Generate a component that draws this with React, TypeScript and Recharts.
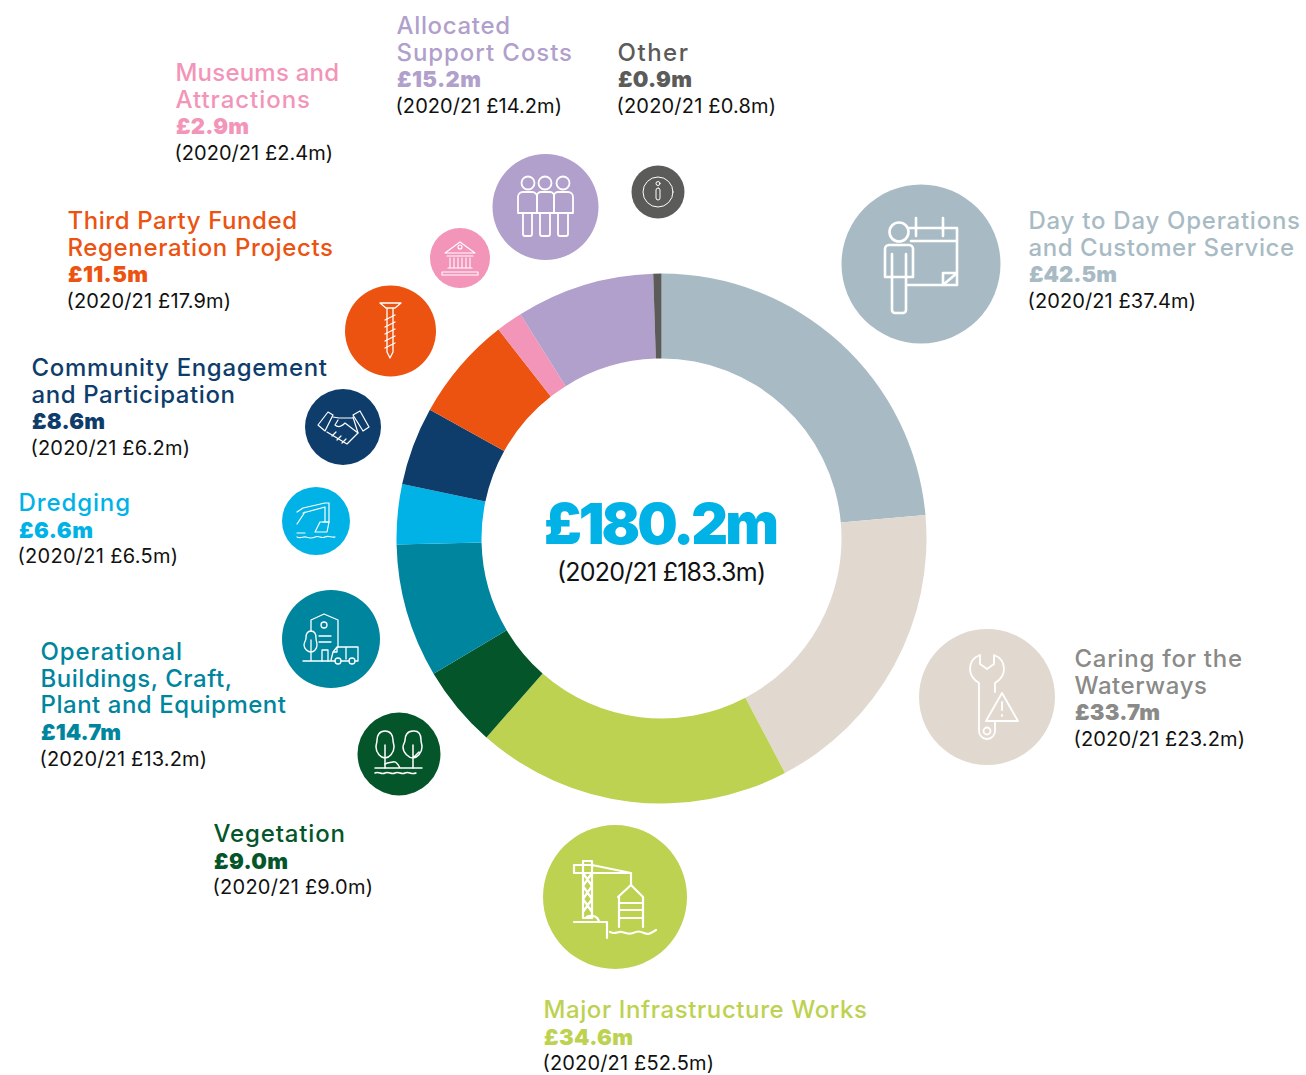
import React from 'react';
import { PieChart, Pie, Cell } from 'recharts';

const names = [
  'Day to Day Operations and Customer Service',
  'Caring for the Waterways',
  'Major Infrastructure Works',
  'Vegetation',
  'Operational Buildings, Craft, Plant and Equipment',
  'Dredging',
  'Community Engagement and Participation',
  'Third Party Funded Regeneration Projects',
  'Museums and Attractions',
  'Allocated Support Costs',
  'Other',
];
const values = [42.5, 33.7, 34.6, 9.0, 14.7, 6.6, 8.6, 11.5, 2.9, 15.2, 0.9];
const previous = [37.4, 23.2, 52.5, 9.0, 13.2, 6.5, 6.2, 17.9, 2.4, 14.2, 0.8];
const COLORS = ['#a8bbc4', '#e1d9cf', '#bcd250', '#04562a', '#00859e', '#00b2e6', '#0e3d6b', '#ec5210', '#f295b9', '#b19fcc', '#5b5b5a'];
const TEXT_COLORS = ['#a8bbc4', '#8a8a88', '#bcd250', '#04562a', '#00859e', '#00b2e6', '#0e3d6b', '#ec5210', '#f295b9', '#b19fcc', '#5b5b5a'];

const chartData = names.map((name, i) => ({ name, value: values[i] }));

// label layout: wrapped title lines with [text, width], then x, first baseline, amount and prior widths
const labels = [
  { x: 1029, y: 229, lines: [['Day to Day Operations', 271], ['and Customer Service', 265]], w: 88, pw: 167 },
  { x: 1075, y: 667, lines: [['Caring for the', 167], ['Waterways', 132]], w: 85, pw: 170 },
  { x: 544, y: 1018, lines: [['Major Infrastructure Works', 323]], w: 89, pw: 170 },
  { x: 214, y: 842, lines: [['Vegetation', 131]], w: 74, pw: 159 },
  { x: 41, y: 660, lines: [['Operational', 141], ['Buildings, Craft,', 191], ['Plant and Equipment', 245]], w: 80, pw: 166 },
  { x: 19, y: 511, lines: [['Dredging', 111]], w: 74, pw: 159 },
  { x: 32, y: 376, lines: [['Community Engagement', 295], ['and Participation', 203]], w: 73, pw: 158 },
  { x: 68, y: 229, lines: [['Third Party Funded', 229], ['Regeneration Projects', 265]], w: 80, pw: 163 },
  { x: 176, y: 81, lines: [['Museums and', 163], ['Attractions', 134]], w: 73, pw: 157 },
  { x: 397, y: 34, lines: [['Allocated', 113], ['Support Costs', 175]], w: 84, pw: 165 },
  { x: 618, y: 60.5, lines: [['Other', 70]], w: 74, pw: 158 },
];

const bubbles = [
  [921, 264, 79.5], [987, 697, 68], [615, 897, 72], [399, 754, 41.5], [331, 639, 49], [316, 521, 34],
  [343, 427, 38], [390.5, 331, 45.5], [460, 258, 30], [545.5, 207, 53], [658, 192, 26.5],
];

const FONT = 'Inter, "Noto Sans", sans-serif';
const LINE = 26.7;

const Icons = () => (
  <g fill="none" stroke="#fff" strokeLinejoin="round" strokeLinecap="round">
    {/* day to day */}
    <g strokeWidth={2.6}>
      <circle cx={899} cy={232} r={9.5} />
      <path d="M889 245h20a4 4 0 0 1 4 4v28h-28v-28a4 4 0 0 1 4-4zM892 277v33a3 3 0 0 0 3 3h8a3 3 0 0 0 3-3v-33M892 254v23M906 254v23" />
      <path d="M908 228h49v57h-50M911 241h46M916 218v18M943 218v18M943 285v-12h14M943 285l14-12" />
    </g>
    {/* caring */}
    <g strokeWidth={1.8}>
      <path d="M980 655C972 658 970 664 970 669C970 675 974 680 979 683V731a8 8 0 0 0 16 0V721M995 692V683C1000 680 1004 675 1004 669C1004 664 1002 658 994 655V664L987 669L980 664V655" />
      <circle cx={987} cy={731} r={3.5} />
      <path d="M1002 693l16 28h-32zM1002 702v8M1002 715v1" />
    </g>
    {/* major works */}
    <g strokeWidth={2.2}>
      <path d="M574 865h18M574 873h18M574 865v8M583 861h9v57h-9zM592 865l39 8v12M592 873h39M583 873l9 13-9 13 9 13M592 873l-9 13 9 13-9 13" />
      <path d="M618 897l13-12 12 12M619 897v30M643 897v30M619 903h24M619 910h24M619 918h24" />
      <path d="M574 922h33v16M586 918c0-3 12-4 13 4M610 932c6 3 7-1 12 0s6 3 11 1 6-2 11 0 7 0 12-3" />
    </g>
    {/* vegetation */}
    <g strokeWidth={1.5}>
      <path d="M385 731c-6 0-8 5-8 9 0 3-1 4-1 7 0 6 5 11 9 11s9-5 9-11c0-3-1-4-1-7 0-4-2-9-8-9zM385 745v23" />
      <path d="M413 731c-6 0-8 5-8 9 0 3-2 4-2 7 0 6 6 11 10 11s9-5 9-11c0-3-1-4-1-7 0-4-1-9-7-9zM413 745v23M413 758l6-6" />
      <path d="M375 768h47M385 764c4-2 5-1 8-2s5 2 7 6M375 773c4-2 6 2 10 0s6 2 10 0 6 2 10 0 6 2 11 0" />
    </g>
    {/* operational */}
    <g strokeWidth={1.3}>
      <path d="M311 631v-11l13-6 14 6v27M319 636h12M319 642h12M322 661v-11h6v11" />
      <circle cx={324} cy={625} r={3} />
      <path d="M311 631c-4 0-5 4-5 7s-2 4-2 7c0 4 4 7 7 7s6-3 6-7c0-3-1-4-1-7 0-3-1-7-5-7zM311 640v21M303 661h32" />
      <path d="M331 660l2-8 4-5h21v14h-3M349 661h-8M337 647v5h-4M346 647v12" />
      <circle cx={338} cy={661} r={3} />
      <circle cx={352} cy={661} r={3} />
    </g>
    {/* dredging */}
    <g strokeWidth={1.2}>
      <path d="M297 512l6-4 22-5h4v19h-6M303 513l22-6v15M305 512l-8 12" />
      <path d="M320 522h9l-2 10h-12zM297 533h8M297 537c4 2 6-1 9 0s5 2 9 0 6 2 10 0 6 1 10 0" />
    </g>
    {/* community */}
    <g strokeWidth={1.2}>
      <path d="M318 425l10-13 5 3-8 16zM353 415l7-4 9 16-6 4z" />
      <path d="M333 417l6 1h14M338 420l-3 5c3 3 7 1 10-2l13 10-11 11-20-12" />
      <path d="M353 417l5 16M332 436l4-4M337 440l4-4M342 443l4-4" />
    </g>
    {/* third party */}
    <g strokeWidth={1.3}>
      <path d="M380 303h21l-6 5h-9zM387 308v44l3 6 3-6v-44" />
      <path d="M385 320l10-5M385 327l10-5M385 334l10-5M385 341l10-5M385 348l10-5" />
    </g>
    {/* museums */}
    <g strokeWidth={1.1}>
      <path d="M445 253l15-11 15 11zM447 256h26M450 258v10M454 258v10M458 258v10M462 258v10M466 258v10M470 258v10M448 268h24M442 272h36v3h-36z" />
      <circle cx={460} cy={247} r={2} />
    </g>
    {/* allocated */}
    <g strokeWidth={1.8}>
      <circle cx={528} cy={183} r={6.5} />
      <circle cx={545} cy={183} r={6.5} />
      <circle cx={563} cy={183} r={6.5} />
      <path d="M523 192h9a5 5 0 0 1 5 5v16h-19v-16a5 5 0 0 1 5-5zM523 213v21a2 2 0 0 0 2 2h5a2 2 0 0 0 2-2v-21" />
      <path d="M541 192h9a4 4 0 0 1 4 5v16h-17v-16a4 4 0 0 1 4-5zM540 213v21a2 2 0 0 0 2 2h6a2 2 0 0 0 2-2v-21" />
      <path d="M558 192h10a5 5 0 0 1 5 5v16h-19v-16a4 4 0 0 1 4-5zM558 213v21a2 2 0 0 0 2 2h6a2 2 0 0 0 2-2v-21" />
    </g>
    {/* other */}
    <g strokeWidth={1}>
      <circle cx={658} cy={192} r={15} />
      <circle cx={658} cy={183.5} r={2} />
      <rect x={656} y={188} width={4} height={12} rx={2} />
    </g>
  </g>
);

const App = () => (
  <div style={{ position: 'absolute', left: 0, top: 0, width: 1306, height: 1075, background: '#fff', overflow: 'hidden' }}>
    <PieChart width={1306} height={1075} margin={{ top: 0, right: 0, bottom: 0, left: 0 }}>
      <Pie
        data={chartData}
        dataKey="value"
        cx={661.5}
        cy={538.5}
        innerRadius={180}
        outerRadius={265}
        startAngle={90}
        endAngle={-270}
        paddingAngle={0}
        stroke="none"
        isAnimationActive={false}
      >
        {chartData.map((_entry, index) => (
          <Cell key={`cell-${index}`} fill={COLORS[index]} />
        ))}
      </Pie>
    </PieChart>
    <svg width={1306} height={1075} style={{ position: 'absolute', left: 0, top: 0 }} fontFamily={FONT}>
      {bubbles.map(([cx, cy, r], i) => (
        <circle key={i} cx={cx} cy={cy} r={r} fill={COLORS[i]} />
      ))}
      <Icons />
      {labels.map((l, i) => (
        <g key={i}>
          {l.lines.map(([t, w], j) => (
            <text key={j} x={l.x - 0.5} y={l.y + j * LINE} fontSize={24} fontWeight={500} fill={TEXT_COLORS[i]} textLength={(w as number) + 0.5} lengthAdjust="spacing">
              {t}
            </text>
          ))}
          <text x={l.x} y={l.y + l.lines.length * LINE} fontSize={22} fontWeight={900} fill={TEXT_COLORS[i]} textLength={l.w} lengthAdjust="spacing">
            {`£${values[i].toFixed(1)}m`}
          </text>
          <text x={l.x - 1.5} y={l.y + l.lines.length * LINE + 25.6} fontSize={20} fontWeight={400} fill="#111" textLength={l.pw + 1.5} lengthAdjust="spacing">
            {`(2020/21 £${previous[i].toFixed(1)}m)`}
          </text>
        </g>
      ))}
      <text x={544} y={544} fontSize={57} fontWeight={900} fill="#00b2e6" textLength={235} lengthAdjust="spacing">£180.2m</text>
      <text x={557} y={581} fontSize={25} fill="#111" textLength={209} lengthAdjust="spacing">(2020/21 £183.3m)</text>
    </svg>
  </div>
);

export default App;
